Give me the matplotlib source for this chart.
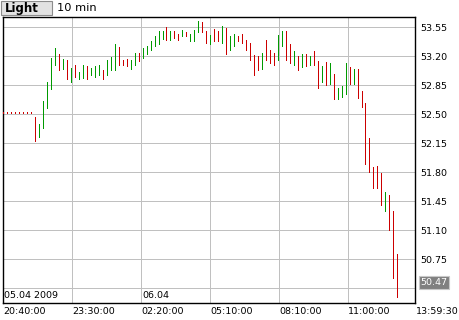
import matplotlib
matplotlib.use("Agg")
import matplotlib.pyplot as plt
from matplotlib.patches import Rectangle

# === DATA (10 min bars, high / low / direction) ===
bar_high = [52.52, 52.52, 52.52, 52.52, 52.52, 52.52, 52.52, 52.52,
            52.47, 52.38, 52.66, 52.89, 53.18, 53.30, 53.23, 53.17, 53.16, 53.06,
            53.10, 53.01, 53.10, 53.08, 53.06, 53.08, 53.10, 53.04, 53.16, 53.19,
            53.35, 53.31, 53.16, 53.17, 53.15, 53.24, 53.24, 53.30, 53.32, 53.38,
            53.45, 53.50, 53.50, 53.55, 53.51, 53.51, 53.47, 53.52, 53.49, 53.47,
            53.52, 53.62, 53.61, 53.51, 53.46, 53.53, 53.51, 53.56, 53.54, 53.45,
            53.47, 53.45, 53.47, 53.40, 53.36, 53.22, 53.20, 53.24, 53.40, 53.28,
            53.24, 53.46, 53.51, 53.51, 53.35, 53.26, 53.20, 53.23, 53.23, 53.20,
            53.26, 53.14, 53.08, 53.13, 53.12, 52.99, 52.82, 52.84, 53.12, 53.07,
            53.05, 53.05, 52.78, 52.64, 52.21, 51.86, 51.88, 51.79, 51.56, 51.53,
            51.33, 50.82]
bar_low = [52.52, 52.52, 52.52, 52.52, 52.52, 52.52, 52.52, 52.52,
           52.18, 52.22, 52.34, 52.58, 52.81, 53.09, 53.04, 53.05, 52.92, 52.89,
           52.95, 52.92, 52.94, 52.93, 52.98, 52.95, 52.97, 52.92, 52.98, 53.04,
           53.03, 53.09, 53.09, 53.08, 53.05, 53.09, 53.14, 53.18, 53.23, 53.27,
           53.32, 53.35, 53.41, 53.40, 53.40, 53.42, 53.40, 53.44, 53.44, 53.39,
           53.38, 53.49, 53.49, 53.36, 53.35, 53.39, 53.38, 53.36, 53.23, 53.27,
           53.33, 53.38, 53.36, 53.27, 53.15, 52.98, 53.04, 53.05, 53.15, 53.12,
           53.09, 53.15, 53.32, 53.15, 53.12, 53.09, 53.03, 53.07, 53.08, 53.09,
           53.09, 52.82, 52.89, 52.85, 52.86, 52.69, 52.68, 52.71, 52.75, 52.87,
           52.86, 52.70, 52.59, 51.90, 51.80, 51.61, 51.61, 51.41, 51.33, 51.10,
           50.53, 50.30]
# u = up bar (green), d = down bar (red), ten bars per group
bar_dir = list("dddddddddu uuuudududu uduuuduuud dduuduuuuu ududduduuu "
               "ddudduduud dddddudddu uddudududd ududuuudud dddddduddd".replace(" ", ""))

y_ticks = [53.55, 53.20, 52.85, 52.50, 52.15, 51.80, 51.45, 51.10, 50.75, 50.40]
time_labels = ["20:40:00", "23:30:00", "02:20:00", "05:10:00", "08:10:00", "11:00:00"]
end_label = "13:59:30"
date_labels = ["05.04 2009", "06.04"]
last_price = 50.47

UP = "#009a00"
DOWN = "#cc0000"
GRID = "#c0c0c0"

# === FIGURE ===
fig = plt.figure(figsize=(4.6, 3.2), dpi=100)
W, H = 460, 320
ax = fig.add_axes([3 / W, (H - 303) / H, 412 / W, 286 / H])

n = len(bar_high)
xs = list(range(n))
lows, highs, cols = [], [], []
for i in range(n):
    lo, hi = bar_low[i], bar_high[i]
    if hi - lo < 0.01:
        lo, hi = lo - 0.005, hi + 0.005
    lows.append(lo)
    highs.append(hi)
    cols.append(UP if bar_dir[i] == 'u' else DOWN)

ax.vlines(xs, lows, highs, colors=cols, linewidth=0.5, antialiased=False, zorder=3)

ax.set_xlim(-0.08, 103.44)
ax.set_ylim(50.2226, 53.6743)

# grid
grid_x = [17.34, 34.67, 52.0, 69.34, 86.6]
for gx in grid_x:
    ax.axvline(gx, color=GRID, linewidth=0.5, antialiased=False, zorder=1)
for yv in y_ticks:
    ax.axhline(yv, color=GRID, linewidth=0.5, antialiased=False, zorder=1)

ax.set_xticks([])
ax.set_yticks(y_ticks)
ax.set_yticklabels([f"{v:.2f}" if v > 50.5 else "" for v in y_ticks])
ax.tick_params(axis="y", left=False, right=True, labelleft=False, labelright=True,
               length=0, pad=3.8, labelsize=6.8, colors="black")
for sp in ax.spines.values():
    sp.set_color("black")
    sp.set_linewidth(1.0)

# time labels under the axis, left aligned on the grid lines
xt = ax.get_xaxis_transform()
for lab, gx in zip(time_labels, [0.0] + grid_x):
    ax.text(gx, -8.5 / 286, lab, transform=xt, ha="left", va="center", fontsize=6.8)
ax.text(1.002, -8.5 / 286, end_label, transform=ax.transAxes, ha="left", va="center",
        fontsize=6.8)

# date labels inside the plot
ax.text(0.2, 8 / 286, date_labels[0], transform=xt, ha="left", va="center", fontsize=6.8)
ax.text(grid_x[1] + 0.25, 8 / 286, date_labels[1], transform=xt, ha="left", va="center",
        fontsize=6.8)

# last price marker
yt = ax.get_yaxis_transform()
ax.text(1 + 5.5 / 412, last_price, f"{last_price:.2f}", transform=yt, ha="left", va="center",
        fontsize=6.8, color="white",
        bbox=dict(boxstyle="square,pad=0.18", facecolor="#808080", edgecolor="#c8c8c8",
                  linewidth=0.8))

# title box
fig.patches.append(Rectangle((1.5 / W, (H - 15) / H), 51 / W, 13.5 / H, transform=fig.transFigure,
                             facecolor="#e2e2e2", edgecolor="#8c8c8c", linewidth=0.8))
fig.text(5 / W, (H - 8.3) / H, "Light", ha="left", va="center", fontsize=8.5, fontweight="bold")
fig.text(57 / W, (H - 8.3) / H, "10 min", ha="left", va="center", fontsize=8.2)

fig.savefig("out.png", dpi=100)
